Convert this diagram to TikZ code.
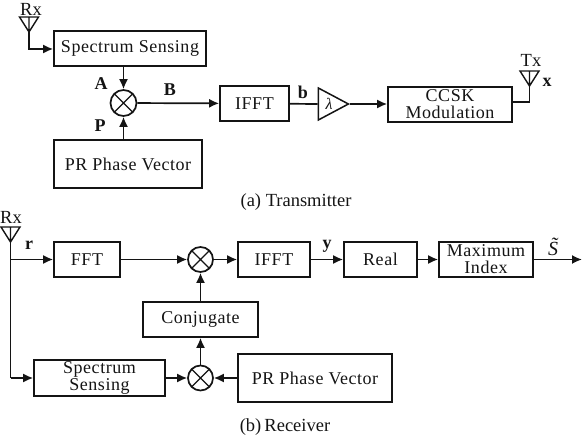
\documentclass[tikz,border=0pt]{standalone}
\usepackage{fontspec}
\setmainfont{Liberation Serif}
\usepackage{tikz}
\usetikzlibrary{arrows.meta,positioning,shapes.geometric}
\definecolor{ink}{HTML}{141414}
\tikzset{
  block/.style={rectangle,draw=ink,line width=1.7pt,inner sep=0pt,text=ink,font=\fontsize{18}{17}\selectfont\addfontfeatures{LetterSpace=3},align=center},
  mixer/.style={circle,draw=ink,line width=1.7pt,inner sep=0pt,minimum size=#1,
    path picture={\draw[ink,line width=1.4pt] (path picture bounding box.north west) -- (path picture bounding box.south east)
      (path picture bounding box.north east) -- (path picture bounding box.south west);}},
  amp/.style={isosceles triangle,isosceles triangle apex angle=56,draw=ink,line width=1.5pt,inner sep=0pt,minimum height=30pt,text=ink},
  lbl/.style={text=ink,font=\fontsize{18.5}{18}\selectfont,inner sep=0pt},
  sym/.style={lbl,font=\fontsize{18}{18}\selectfont\bfseries},
  sig/.style={-{Latex[length=10pt,width=9pt]},ink,line width=1.7pt},
  wire/.style={ink,line width=1.7pt},
}
\newcommand{\antenna}[3]{% name, x, y of the tip
  \coordinate (#1) at (#2,#3);
  \draw[wire,line width=1.4pt] (#1) -- ++(-9.5,-15) -- ++(19,0) -- cycle (#1) -- ++(0,-15);}
\begin{document}
\begin{tikzpicture}[x=1pt,y=-1pt]
  \useasboundingbox (0,0) rectangle (582,438);
  % transmitter
  \node[block,minimum width=152pt,minimum height=35pt] (sense) at (130,48.5) {Spectrum Sensing};
  \node[mixer=26pt] (mixa) at (123.5,103) {};
  \node[block,minimum width=148pt,minimum height=48pt] (phase) at (128,164) {PR Phase Vector};
  \node[block,minimum width=69pt,minimum height=35pt] (ifft) at (254.5,103.5) {IFFT};
  \node[amp] (gain) at (328,104) {};
  \node[lbl,font=\fontsize{16}{16}\selectfont\itshape] (lam) at (329,104) {λ};
  \node[block,minimum width=124pt,minimum height=35pt] (ccsk) at (450,104.5) {CCSK\\Modulation};
  \antenna{rxa}{29}{32}
  \antenna{txa}{529.5}{86}
  \coordinate (rxbend) at (29,49);
  \coordinate (txbend) at (529.5,102);
  \draw[sig] (rxa) -- (rxbend) -- (sense.west |- rxbend);
  \draw[sig] (sense.south -| mixa) -- (mixa);
  \draw[sig] (phase.north -| mixa) -- (mixa);
  \draw[sig] (mixa) -- (ifft);
  \draw[wire] (ifft) -- (gain.west);
  \draw[sig] (gain.apex) -- (ccsk.west |- gain.apex);
  \draw[wire] (ccsk.east |- txbend) -- (txbend) -- (txa);
  \node[lbl] (rxlabela) at (31,9) {Rx};
  \node[lbl] (txlabel) at (531,60) {Tx};
  \node[sym] (xlabel) at (547,82) {x};
  \node[sym] (alabel) at (101,84) {A};
  \node[sym] (blabel) at (170,90) {B};
  \node[sym] (plabel) at (100,126) {P};
  \node[sym] (bsmall) at (303,92) {b};
  \node[lbl] (capa) at (296,202) {(a) Transmitter};
  % receiver
  \node[block,minimum width=66pt,minimum height=35pt] (fft) at (87,259.5) {FFT};
  \node[mixer=25pt] (mixb) at (200.5,259.5) {};
  \node[block,minimum width=72pt,minimum height=35pt] (ifftr) at (274,259.5) {IFFT};
  \node[block,minimum width=73pt,minimum height=35pt] (real) at (380.5,259.5) {Real};
  \node[block,minimum width=94pt,minimum height=35pt] (maxidx) at (486,259.5) {Maximum\\Index};
  \node[block,minimum width=115pt,minimum height=35pt] (conj) at (200.5,319.5) {Conjugate};
  \node[block,minimum width=131pt,minimum height=36pt] (senser) at (99.5,378) {Spectrum\\Sensing};
  \node[mixer=25pt] (mixc) at (200.5,378) {};
  \node[block,minimum width=154pt,minimum height=48pt] (phaser) at (315,378) {PR Phase Vector};
  \antenna{rxb}{10.5}{242}
  \coordinate (branch) at (10.5,259.5);
  \coordinate (corner) at (10.5,378);
  \coordinate (out) at (582,259.5);
  \draw[wire] (rxb) -- (corner);
  \draw[sig] (branch) -- (fft);
  \draw[sig] (corner) -- (senser);
  \draw[sig] (fft) -- (mixb);
  \draw[sig] (mixb) -- (ifftr);
  \draw[sig] (ifftr) -- (real);
  \draw[sig] (real) -- (maxidx);
  \draw[sig] (maxidx) -- (out);
  \draw[sig] (conj) -- (mixb);
  \draw[sig] (mixc) -- (conj);
  \draw[sig] (senser) -- (mixc);
  \draw[sig] (phaser) -- (mixc);
  \node[lbl] (rxlabelb) at (11,217) {Rx};
  \node[sym] (rlabel) at (29,245) {r};
  \node[sym] (ylabel) at (327,246) {y};
  \node[lbl,font=\fontsize{20}{20}\selectfont\itshape] (slabel) at (553,247) {\~{S}};
  \node[lbl] (capb) at (285,427) {(b)\,Receiver};
\end{tikzpicture}
\end{document}
